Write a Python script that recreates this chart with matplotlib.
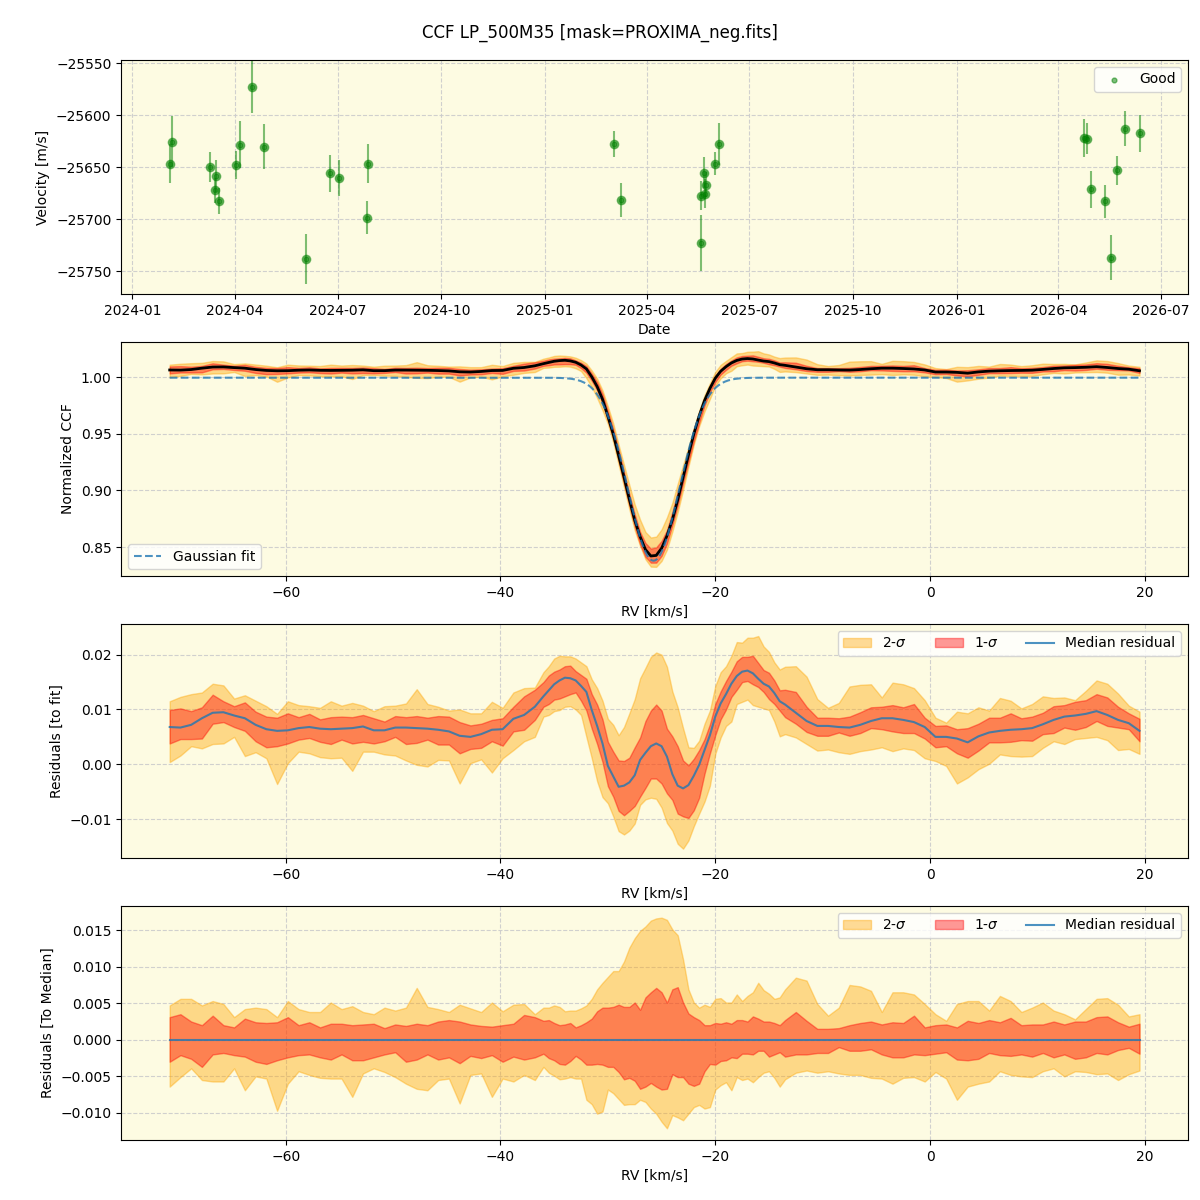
import numpy as np
import pandas as pd
from matplotlib import pyplot as plt
import matplotlib.dates as mdates

# --- RV time series (top panel) ---
obs_dates = ['2024-02-03', '2024-02-05', '2024-03-10', '2024-03-15', '2024-03-14',
             '2024-03-18', '2024-04-02', '2024-04-05', '2024-04-16', '2024-04-27',
             '2024-06-03', '2024-06-24', '2024-07-02', '2024-07-27', '2024-07-28',
             '2025-03-03', '2025-03-09', '2025-05-19', '2025-05-19', '2025-05-22',
             '2025-05-24', '2025-05-23', '2025-06-01', '2025-06-04', '2026-04-24',
             '2026-04-26', '2026-04-30', '2026-05-12', '2026-05-18', '2026-05-23',
             '2026-05-30', '2026-06-12']
velocity = [-25646.8, -25625.6, -25649.7, -25658.3, -25672.4, -25682.4, -25647.8,
            -25628.5, -25572.8, -25630.4, -25738.1, -25656.1, -25660.3, -25698.7,
            -25646.8, -25627.6, -25681.4, -25722.8, -25677.6, -25655.4, -25667.0,
            -25675.6, -25646.8, -25627.6, -25621.8, -25622.8, -25671.5, -25683.0,
            -25736.9, -25653.2, -25613.1, -25617.6]
velocity_err = [18.9, 24.4, 14.7, 15.4, 12.0, 12.7, 13.3, 22.4, 25.3, 21.8, 24.2,
                17.6, 17.0, 15.7, 18.6, 12.8, 16.3, 26.6, 14.0, 15.0, 12.0, 14.0,
                11.0, 20.0, 18.0, 15.0, 17.5, 16.0, 22.0, 14.0, 17.0, 17.6]

# --- CCF profiles ---
# velocity samples: 1 km/s steps on the wings, 0.5 km/s across the line
rv = np.concatenate([np.linspace(-70.8, -36.8, 35),
                     np.linspace(-36.0, -14.0, 45),
                     np.linspace(-13.5, 19.5, 34)])

# gaussian fit parameters
fit_offset = 0.9995
fit_amp = -0.1615
fit_center = -25.75
fit_sigma = 2.4

# median residual to the gaussian fit (units of 1e-3)
median_resid = [
    6.8, 6.7, 7.2, 8.4, 9.4, 9.5, 8.9, 8.4, 7.2, 6.4, 6.1, 6.2, 6.6, 6.8, 6.5, 6.4, 6.5, 6.6,
    6.9, 6.2, 6.2, 6.7, 6.7, 6.6, 6.5, 6.3, 6.0, 5.2, 5.0, 5.5, 6.3, 6.4, 8.3, 9.0, 10.5,
    12.4, 13.5, 14.6, 15.3, 15.8, 15.7, 15.3, 14.3, 13.2, 9.9, 7.0, 3.8, -0.3, -2.2, -4.1,
    -3.9, -3.3, -2.0, 0.8, 2.1, 3.3, 3.8, 3.3, 1.4, -1.8, -3.9, -4.4, -3.8, -2.1, -0.1, 2.6,
    5.3, 8.7, 11.1, 12.8, 14.7, 16.1, 16.9, 17.1, 16.6, 15.6, 14.7, 14.2, 13.0, 11.5,
    10.9, 9.4, 7.9, 7.0, 7.0, 6.8, 6.7, 7.2, 7.9, 8.4, 8.4, 8.1, 7.7, 6.8, 5.0, 5.0, 4.7,
    4.0, 5.1, 5.8, 6.1, 6.3, 6.4, 6.6, 7.3, 8.1, 8.7, 8.9, 9.2, 9.7, 9.0, 8.1, 7.5, 6.1]

# spread of the individual CCFs around the median (units of 1e-3)
upper_2sig = [
    4.7, 5.6, 5.6, 4.7, 5.3, 4.9, 3.1, 4.2, 4.4, 4.2, 3.1, 5.3, 4.2, 3.8, 3.8, 5.1, 4.2, 4.6,
    3.8, 3.5, 4.4, 4.0, 4.4, 7.1, 4.5, 4.2, 3.8, 4.8, 4.3, 3.8, 5.1, 3.9, 4.8, 4.9, 3.5,
    4.4, 4.4, 4.7, 4.5, 3.9, 4.0, 4.0, 4.3, 4.7, 5.6, 6.9, 7.8, 8.6, 9.4, 9.4, 10.7, 12.6,
    13.9, 14.9, 15.5, 16.3, 16.6, 16.7, 16.4, 15.1, 14.3, 11.0, 6.9, 5.1, 4.4, 4.8, 4.5,
    5.6, 5.7, 5.1, 5.1, 6.2, 5.3, 6.0, 6.5, 7.8, 6.8, 6.3, 5.6, 5.8,
    6.9, 8.5, 8.1, 4.9, 3.3, 4.4, 7.5, 7.3, 6.7, 3.8, 6.5, 6.5, 6.2, 4.9, 3.5, 2.6, 4.9,
    5.3, 5.3, 4.0, 6.0, 5.3, 3.8, 4.4, 5.1, 4.0, 3.5, 2.8, 4.2, 5.6, 5.7, 4.8, 3.2, 3.5]
upper_1sig = [
    3.1, 3.5, 2.5, 2.0, 3.3, 2.0, 1.7, 2.9, 2.4, 2.3, 2.4, 3.1, 2.0, 2.4, 1.7, 2.2, 2.2, 2.0,
    2.1, 2.2, 1.6, 2.1, 1.9, 2.2, 2.0, 2.5, 2.7, 2.5, 2.1, 1.9, 1.8, 2.0, 2.2, 3.4, 3.1,
    2.6, 2.7, 2.3, 2.0, 2.1, 2.3, 1.7, 2.0, 2.4, 2.9, 3.9, 4.4, 4.4, 4.5, 4.8, 4.5, 4.5,
    5.1, 4.1, 5.8, 6.5, 7.1, 6.5, 5.1, 6.9, 7.2, 5.1, 3.6, 3.1, 2.7, 2.0, 2.0, 2.3, 2.2,
    2.4, 2.2, 2.7, 2.7, 2.5, 3.2, 2.9, 2.5, 2.5, 2.3, 2.0,
    2.7, 3.8, 2.6, 1.5, 1.5, 1.6, 2.0, 2.3, 2.5, 2.1, 2.4, 2.3, 3.3, 1.7, 2.0, 2.1, 1.7,
    2.6, 2.3, 2.7, 2.4, 3.0, 2.0, 2.1, 2.1, 2.5, 2.1, 2.5, 2.5, 3.1, 3.2, 2.4, 1.8, 2.2]
lower_1sig = [
    -3.0, -2.1, -2.6, -3.7, -2.0, -1.8, -2.1, -2.3, -3.0, -3.3, -2.8, -2.4, -2.1, -2.0,
    -2.4, -2.7, -2.0, -2.8, -2.8, -2.4, -2.0, -1.7, -3.0, -2.7, -2.0, -2.7, -2.4, -3.2,
    -2.2, -2.5, -2.1, -3.0, -2.3, -2.7, -2.4,
    -1.9, -2.5, -2.8, -3.3, -3.4, -2.9, -2.2, -2.7, -3.4, -3.4, -3.3, -3.4, -3.7, -3.7,
    -4.4, -5.4, -5.2, -5.6, -6.7, -6.4, -5.9, -6.4, -6.8, -6.7, -4.7, -5.1, -5.1, -6.0,
    -6.3, -6.0, -4.3, -3.3, -3.4, -2.9, -2.8, -2.4, -2.5, -1.9, -1.9, -2.0, -1.5, -1.5,
    -2.3, -2.0, -1.7,
    -2.3, -2.0, -2.0, -1.8, -1.8, -1.0, -1.5, -1.5, -1.3, -2.0, -2.4, -2.4, -2.0, -2.1,
    -1.9, -1.7, -2.7, -2.8, -2.6, -1.8, -2.1, -2.2, -2.0, -2.3, -1.8, -2.4, -2.0, -2.6,
    -2.4, -1.8, -2.0, -1.4, -1.1, -1.9]
lower_2sig = [
    -6.4, -5.1, -3.9, -5.5, -5.7, -5.7, -3.9, -6.9, -5.0, -5.3, -9.7, -6.0, -4.3, -4.8,
    -5.2, -5.3, -5.3, -7.8, -4.6, -3.9, -4.4, -5.1, -6.0, -6.7, -6.9, -5.5, -5.3, -8.7,
    -4.8, -4.6, -7.8, -5.3, -5.7, -4.8, -5.5,
    -3.7, -4.5, -4.9, -5.4, -5.3, -5.1, -5.3, -5.3, -8.2, -8.8, -10.1, -9.8, -6.8, -7.3,
    -8.1, -8.9, -8.8, -8.8, -8.2, -8.5, -9.4, -10.1, -11.2, -12.1, -10.3, -10.6, -11.0,
    -10.1, -9.2, -8.9, -9.4, -9.2, -6.8, -6.2, -5.8, -6.9, -5.1, -5.5, -5.3, -5.8, -5.1,
    -4.5, -4.3, -5.2, -6.4,
    -5.4, -4.5, -4.2, -4.5, -4.3, -4.6, -4.8, -4.8, -5.2, -5.3, -6.0, -5.2, -5.1, -5.7,
    -4.4, -5.3, -8.2, -6.4, -6.0, -5.7, -4.3, -4.8, -5.0, -5.1, -4.3, -3.9, -5.0, -4.3,
    -4.4, -4.7, -4.6, -5.5, -4.7, -4.2]

bg = '#fdfbe2'


def gaussian(x):
    return fit_offset + fit_amp*np.exp(-(x-fit_center)**2/(2*fit_sigma**2))


resid = np.array(median_resid)*1e-3
ccf = gaussian(rv) + resid
u2 = np.array(upper_2sig)*1e-3
u1 = np.array(upper_1sig)*1e-3
l1 = np.array(lower_1sig)*1e-3
l2 = np.array(lower_2sig)*1e-3
rv_fine = np.linspace(rv[0], rv[-1], 600)

fig, axes = plt.subplots(4, 1, figsize=(12, 12), dpi=100)
fig.subplots_adjust(left=0.101, right=0.99, top=0.95, bottom=0.05, hspace=0.205)
fig.suptitle("CCF LP_500M35 [mask=PROXIMA_neg.fits]", fontsize=12)

for ax in axes:
    ax.set_facecolor(bg)
    ax.grid(True, linestyle='--', color='#cccccc', alpha=0.9)
    ax.set_axisbelow(True)

# Panel 1: velocities
ax = axes[0]
t = pd.to_datetime(obs_dates)
ax.errorbar(t, velocity, yerr=velocity_err, fmt='o', color='green', alpha=0.5, ms=6)
ax.scatter(t, velocity, s=12, color='green', alpha=0.5, label='Good')
ax.set_ylim(-25772, -25547)
ax.xaxis.set_major_locator(mdates.MonthLocator(bymonth=[1, 4, 7, 10]))
ax.xaxis.set_major_formatter(mdates.DateFormatter('%Y-%m'))
ax.set_xlabel("Date")
ax.set_ylabel("Velocity [m/s]")
ax.legend(loc='upper right')

# Panel 2: CCF with bands
ax = axes[1]
ax.fill_between(rv, ccf+l2, ccf+u2, color='orange', alpha=0.4)
ax.fill_between(rv, ccf+l1, ccf+u1, color='red', alpha=0.4)
ax.plot(rv, ccf, color='black', lw=2)
ax.plot(rv_fine, gaussian(rv_fine), '--', color='C0', alpha=0.8, label='Gaussian fit')
ax.set_ylim(0.8245, 1.031)
ax.set_xlabel("RV [km/s]")
ax.set_ylabel("Normalized CCF")
ax.legend(loc='lower left')

# Panel 3: residuals to the fit
ax = axes[2]
ax.fill_between(rv, resid+l2, resid+u2, color='orange', alpha=0.4, label='2-$\\sigma$')
ax.fill_between(rv, resid+l1, resid+u1, color='red', alpha=0.4, label='1-$\\sigma$')
ax.plot(rv, resid, color='C0', alpha=0.8, lw=1.5, label='Median residual')
ax.set_ylim(-0.0171, 0.0256)
ax.set_xlabel("RV [km/s]")
ax.set_ylabel("Residuals [to fit]")
ax.legend(loc='upper right', ncol=3)

# Panel 4: residuals to the median
ax = axes[3]
ax.fill_between(rv, l2, u2, color='orange', alpha=0.4, label='2-$\\sigma$')
ax.fill_between(rv, l1, u1, color='red', alpha=0.4, label='1-$\\sigma$')
ax.plot(rv, resid-resid, color='C0', alpha=0.8, lw=1.5, label='Median residual')
ax.set_ylim(-0.0137, 0.0183)
ax.set_xlabel("RV [km/s]")
ax.set_ylabel("Residuals [To Median]")
ax.legend(loc='upper right', ncol=3)

plt.savefig("out.png")
